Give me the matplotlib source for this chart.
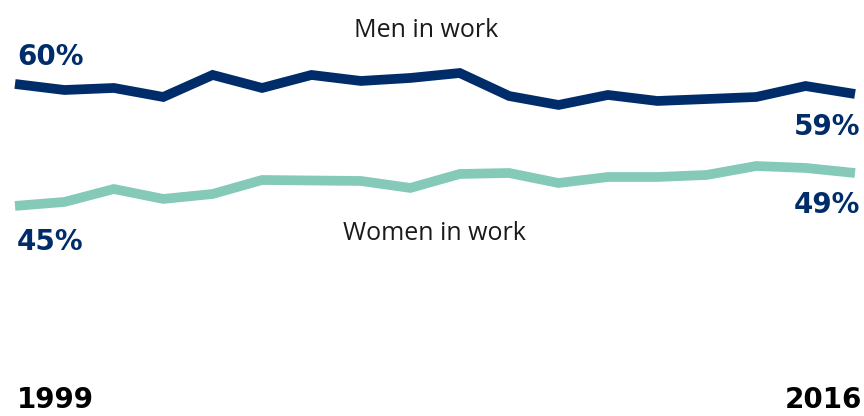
import matplotlib
matplotlib.use("Agg")
import matplotlib.pyplot as plt

# Employment rates, 1999-2016 (%)
years = list(range(1999, 2017))
men = [60.0, 59.26, 59.51, 58.40, 61.11, 59.51, 61.11, 60.37, 60.74, 61.35,
       58.52, 57.42, 58.65, 57.91, 58.15, 58.40, 59.75, 58.77]
women = [45.0, 45.49, 47.08, 45.86, 46.47, 48.19, 48.13, 48.07, 47.21, 48.93,
         49.05, 47.82, 48.56, 48.56, 48.81, 49.91, 49.67, 49.05]

series_names = ["Men in work", "Women in work"]
navy = "#002d6a"
teal = "#85c9b9"
ink = "#1a1a1a"

fig = plt.figure(figsize=(8.64, 4.16), dpi=100)
ax = fig.add_axes([0, 0, 1, 1])
ax.set_xlim(1998.696, 2016.182)
ax.set_ylim(19.16, 70.33)
ax.axis("off")

ax.plot(years, women, color=teal, lw=7, solid_joinstyle="miter", solid_capstyle="butt")
ax.plot(years, men, color=navy, lw=7, solid_joinstyle="miter", solid_capstyle="butt")

num_font = dict(family="DejaVu Sans", weight="bold", fontsize=20, color=navy)
left_x = years[0] + 0.04
right_x = years[-1] + 0.10

# End-point value labels
ax.text(left_x, 62.34, f"{men[0]:.0f}%", ha="left", va="baseline", **num_font)
ax.text(right_x, 53.73, f"{men[-1]:.0f}%", ha="right", va="baseline", **num_font)
ax.text(left_x, 39.58, f"{women[0]:.0f}%", ha="left", va="baseline", **num_font)
ax.text(right_x, 44.13, f"{women[-1]:.0f}%", ha="right", va="baseline", **num_font)

# Series names
ax.text(2007.33, 65.78, series_names[0], ha="center", va="baseline",
        family="Open Sans", fontsize=18, color=ink)
ax.text(2007.49, 40.81, series_names[1], ha="center", va="baseline",
        family="Open Sans", fontsize=18, color=ink)

# Year labels
ax.text(left_x, 20.15, str(years[0]), ha="left", va="baseline",
        family="DejaVu Sans", weight="bold", fontsize=20, color="black")
ax.text(years[-1] + 0.14, 20.15, str(years[-1]), ha="right", va="baseline",
        family="DejaVu Sans", weight="bold", fontsize=20, color="black")

fig.savefig("out.png", dpi=100)
